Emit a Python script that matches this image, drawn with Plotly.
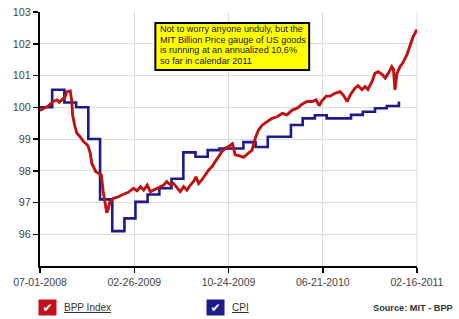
import plotly.graph_objects as go

# ---------------- data ----------------
bpp_dates = [
    "2008-07-01", "2008-07-10", "2008-07-23", "2008-08-04", "2008-08-13", "2008-08-19",
    "2008-08-25", "2008-09-03", "2008-09-07", "2008-09-16", "2008-09-20", "2008-09-22",
    "2008-09-27", "2008-10-03", "2008-10-11", "2008-10-20", "2008-10-28", "2008-11-01",
    "2008-11-06", "2008-11-10", "2008-11-14", "2008-11-20", "2008-11-27", "2008-12-04",
    "2008-12-09", "2008-12-14", "2008-12-18", "2008-12-22", "2008-12-26", "2009-01-04",
    "2009-01-17", "2009-01-29", "2009-02-11", "2009-02-24", "2009-03-05", "2009-03-14",
    "2009-03-22", "2009-03-31", "2009-04-08", "2009-04-16", "2009-04-25", "2009-05-03",
    "2009-05-12", "2009-05-20", "2009-05-29", "2009-06-06", "2009-06-15", "2009-06-23",
    "2009-07-02", "2009-07-10", "2009-07-19", "2009-07-27", "2009-08-02", "2009-08-09",
    "2009-08-17", "2009-08-26", "2009-09-03", "2009-09-12", "2009-09-20", "2009-09-29",
    "2009-10-07", "2009-10-16", "2009-10-24", "2009-11-03", "2009-11-10", "2009-11-18",
    "2009-12-01", "2009-12-13", "2009-12-23", "2009-12-31", "2010-01-08", "2010-01-18",
    "2010-01-31", "2010-02-12", "2010-02-25", "2010-03-10", "2010-03-22", "2010-04-04",
    "2010-04-17", "2010-04-30", "2010-05-12", "2010-05-25", "2010-06-04", "2010-06-12",
    "2010-06-19", "2010-06-30", "2010-07-10", "2010-07-22", "2010-08-04", "2010-08-12",
    "2010-08-22", "2010-08-30", "2010-09-11", "2010-09-19", "2010-09-29", "2010-10-07",
    "2010-10-14", "2010-10-25", "2010-11-01", "2010-11-09", "2010-11-19", "2010-11-27",
    "2010-12-04", "2010-12-14", "2010-12-18", "2010-12-22", "2010-12-27", "2011-01-04",
    "2011-01-11", "2011-01-22", "2011-01-29", "2011-02-06", "2011-02-16",
]
bpp_values = [
    99.90, 99.97, 100.05, 100.18, 100.23, 100.16,
    100.23, 100.33, 100.49, 100.51, 100.18, 99.76,
    99.44, 99.18, 99.07, 98.92, 98.83, 98.76,
    98.55, 98.23, 98.13, 97.97, 97.92, 97.87,
    97.34, 97.03, 96.68, 96.80, 97.03, 97.13,
    97.18, 97.26, 97.32, 97.45, 97.37, 97.50,
    97.39, 97.55, 97.34, 97.39, 97.45, 97.50,
    97.55, 97.66, 97.55, 97.60, 97.45, 97.34,
    97.50, 97.39, 97.55, 97.66, 97.81, 97.60,
    97.71, 97.87, 98.02, 98.13, 98.29, 98.44,
    98.60, 98.71, 98.76, 98.85, 98.50, 98.48,
    98.42, 98.55, 98.65, 99.02, 99.28, 99.44,
    99.55, 99.65, 99.70, 99.81, 99.76, 99.91,
    99.97, 100.10, 100.18, 100.18, 100.23, 100.05,
    100.20, 100.35, 100.35, 100.44, 100.49, 100.39,
    100.18, 100.39, 100.60, 100.68, 100.55, 100.65,
    100.56, 100.82, 101.07, 101.12, 101.04, 100.92,
    101.05, 101.28, 101.20, 100.55, 101.07, 101.28,
    101.40, 101.67, 101.93, 102.22, 102.45,
]

cpi_dates = [
    "2008-07-01", "2008-08-01", "2008-09-01", "2008-10-01", "2008-11-01", "2008-12-01",
    "2009-01-01", "2009-02-01", "2009-03-01", "2009-04-01", "2009-05-01", "2009-06-01",
    "2009-07-01", "2009-08-01", "2009-09-01", "2009-10-01", "2009-11-01", "2009-12-01",
    "2010-01-01", "2010-02-01", "2010-03-01", "2010-04-01", "2010-05-01", "2010-06-01",
    "2010-07-01", "2010-08-01", "2010-09-01", "2010-10-01", "2010-11-01", "2010-12-01",
    "2011-01-01",
]
cpi_values = [
    100.00, 100.55, 100.15, 100.00, 99.00, 97.10,
    96.10, 96.50, 97.02, 97.25, 97.45, 97.75,
    98.58, 98.44, 98.65, 98.70, 98.70, 98.90,
    98.75, 99.07, 99.07, 99.44, 99.65, 99.75,
    99.65, 99.65, 99.76, 99.86, 99.97, 100.04,
    100.18,
]

x_tick_dates = ["2008-07-01", "2009-02-26", "2009-10-24", "2010-06-21", "2011-02-16"]
x_tick_labels = ["07-01-2008", "02-26-2009", "10-24-2009", "06-21-2010", "02-16-2011"]
y_tick_values = [96, 97, 98, 99, 100, 101, 102, 103]
y_tick_labels = ["96", "97", "98", "99", "100", "101", "102", "103"]

note_lines = [
    "Not to worry anyone unduly, but the",
    "MIT Billion Price gauge of US goods",
    "is running at an annualized 10.6%",
    "so far in calendar 2011",
]

RED = "#bf1111"
BLUE = "#1b1b8a"
FONT = "Liberation Sans, Arial, sans-serif"

fig = go.Figure()
fig.add_trace(go.Scatter(
    x=cpi_dates, y=cpi_values, mode="lines", name="CPI",
    line=dict(color=BLUE, width=2.6, shape="hv"), hoverinfo="skip",
))
fig.add_trace(go.Scatter(
    x=bpp_dates, y=bpp_values, mode="lines", name="BPP Index",
    line=dict(color=RED, width=2.9), hoverinfo="skip",
))

fig.update_layout(
    width=459, height=319,
    margin=dict(l=39.5, r=42, t=12, b=53, autoexpand=False),
    paper_bgcolor="white", plot_bgcolor="white",
    showlegend=False,
    font=dict(family=FONT, size=10.5, color="#444444"),
    xaxis=dict(
        type="date",
        range=["2008-07-01", "2011-02-16"],
        tickvals=x_tick_dates, ticktext=x_tick_labels,
        showgrid=True, gridcolor="#dcdcdc", gridwidth=1,
        showline=True, linecolor="black", linewidth=2,
        ticks="outside", ticklen=5, tickcolor="black", tickwidth=1.5,
        tickfont=dict(size=10.5, color="#444444"),
        zeroline=False, fixedrange=True, automargin=False,
    ),
    yaxis=dict(
        range=[95, 103],
        tickvals=y_tick_values, ticktext=y_tick_labels,
        showgrid=True, gridcolor="#dcdcdc", gridwidth=1,
        showline=True, linecolor="black", linewidth=2,
        ticks="outside", ticklen=5, tickcolor="black", tickwidth=1.5,
        tickfont=dict(size=10.8, color="#444444"),
        zeroline=False, fixedrange=True, automargin=False,
    ),
)

# right frame line in light grey
fig.add_shape(type="line", xref="paper", yref="paper", x0=1, x1=1, y0=0, y1=1,
              line=dict(color="#dcdcdc", width=1), layer="below")

# note box
fig.add_shape(type="rect", xref="paper", yref="paper",
              x0=0.306, x1=0.714, y0=0.772, y1=0.957,
              fillcolor="#ffff00", line=dict(color="black", width=2), layer="above")
for i, line_text in enumerate(note_lines):
    fig.add_annotation(
        xref="paper", yref="paper", x=0.312, y=0.933 - i * 0.042,
        xanchor="left", yanchor="middle",
        text=line_text, showarrow=False, align="left",
        font=dict(family=FONT, size=9.1, color="#111111"),
    )

# legend checkboxes
for cx, color in [(0.0199, "#c4121c"), (0.465, "#1b1b8a")]:
    fig.add_annotation(
        xref="paper", yref="paper", x=cx, y=-0.165, xanchor="center", yanchor="middle",
        text="✔", showarrow=False, width=15, height=13,
        font=dict(family="DejaVu Sans", size=12, color="white"),
        bgcolor=color, borderpad=1,
    )
fig.add_annotation(
    xref="paper", yref="paper", x=0.0596, y=-0.165, xanchor="left", yanchor="middle",
    text="<u>BPP Index</u>", showarrow=False,
    font=dict(family=FONT, size=10, color="#333333"),
)
fig.add_annotation(
    xref="paper", yref="paper", x=0.5046, y=-0.165, xanchor="left", yanchor="middle",
    text="<u>CPI</u>", showarrow=False,
    font=dict(family=FONT, size=10, color="#333333"),
)
fig.add_annotation(
    xref="paper", yref="paper", x=1.1007, y=-0.165, xanchor="right", yanchor="middle",
    text="<b>Source: MIT - BPP</b>", showarrow=False,
    font=dict(family=FONT, size=9.2, color="#333333"),
)

fig.write_html("out.html", config={"displayModeBar": False, "staticPlot": True})
